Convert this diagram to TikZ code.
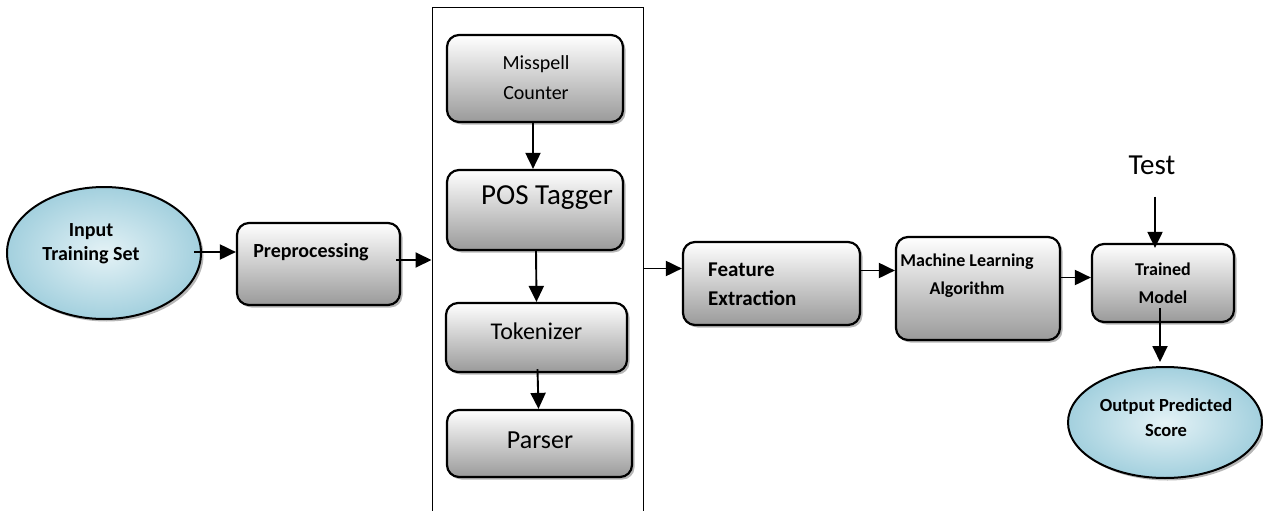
\documentclass[tikz,border=0pt]{standalone}
\usepackage{fontspec}
\setmainfont{Carlito}
\usetikzlibrary{arrows.meta,shadows,calc,shapes.geometric}
\definecolor{boxgray}{HTML}{9A9A9A}
\definecolor{ellin}{HTML}{E4F2F6}
\definecolor{ellout}{HTML}{A3D0DE}
\begin{document}
\begin{tikzpicture}[x=1pt,y=-1pt,
  box/.style={draw, line width=2.2pt, rounded corners=12pt, inner sep=0pt,
    top color=white, bottom color=boxgray,
    drop shadow={shadow xshift=2.5pt, shadow yshift=-2.5pt, fill=black!40, opacity=0.7}},
  ell/.style={ellipse, draw, line width=2pt, inner sep=0pt,
    inner color=ellin, outer color=ellout,
    drop shadow={shadow xshift=2.5pt, shadow yshift=-2.5pt, fill=black!40, opacity=0.7}},
  arr/.style={line width=1.9pt, -{Triangle[length=16pt,width=15pt]}},
  bt/.style={font=\bfseries\fontsize{20}{24}\selectfont, align=center, inner sep=0pt},
  nt/.style={font=\fontsize{24}{30}\selectfont, align=center, inner sep=0pt}]
\useasboundingbox (0,0) rectangle (1263,511);
% outer stage rectangle
\node[draw, line width=1pt, minimum width=211pt, minimum height=530pt, inner sep=0pt] (stage) at (537.5,273) {};
% shapes
\node[ell, minimum width=194pt, minimum height=132pt] (in) at (104,253) {};
\node[box, minimum width=163pt, minimum height=82pt] (pre) at (318.5,264) {};
\node[box, minimum width=176pt, minimum height=87pt] (mis) at (535,78.5) {};
\node[box, minimum width=176pt, minimum height=80pt] (pos) at (535,210) {};
\node[box, minimum width=181pt, minimum height=69pt] (tok) at (536.5,337.5) {};
\node[box, minimum width=185pt, minimum height=67pt] (par) at (539.5,443.5) {};
\node[box, minimum width=177pt, minimum height=83pt] (fe) at (771.5,283.5) {};
\node[box, minimum width=164pt, minimum height=103pt] (ml) at (978,288.5) {};
\node[box, minimum width=142pt, minimum height=78pt] (tm) at (1163,283) {};
\node[ell, minimum width=194pt, minimum height=111pt] (out) at (1165,422.5) {};
% texts
\node[bt] (inT) at (91,244) {Input\\Training Set};
\node[bt] (preT) at (311,252) {Preprocessing};
\node[font=\fontsize{20}{30}\selectfont, align=center, inner sep=0pt] (misT) at (536,78) {Misspell\\Counter};
\node[font=\fontsize{29}{30}\selectfont, inner sep=0pt] (posT) at (547,198) {POS Tagger};
\node[nt] (tokT) at (536.5,331) {Tokenizer};
\node[font=\fontsize{26}{30}\selectfont, inner sep=0pt] (parT) at (540,440) {Parser};
\node[font=\bfseries\fontsize{21}{29}\selectfont, align=left, inner sep=0pt, anchor=west] (feT) at (708,284.5) {Feature\\Extraction};
\node[font=\bfseries\fontsize{18}{28}\selectfont, align=center, inner sep=0pt] (mlT) at (967,276) {Machine Learning\\Algorithm};
\node[font=\bfseries\fontsize{18}{28}\selectfont, align=center, inner sep=0pt] (tmT) at (1163,283) {Trained\\Model};
\node[font=\bfseries\fontsize{18.5}{25}\selectfont, align=center, inner sep=0pt] (outT) at (1166,417.5) {Output Predicted\\Score};
\node[font=\fontsize{29}{30}\selectfont, inner sep=0pt] (test) at (1152,165) {Test};
% connectors
\coordinate (a1) at ($(in.east)+(-8,-1)$);
\draw[arr] (a1) -- (a1 -| pre.west);
\coordinate (a2) at ($(pre.east)+(-5,-4)$);
\draw[arr] (a2) -- (a2 -| stage.west);
\draw[arr] ($(mis.south)+(-2,-2)$) -- ($(pos.north)+(-2,0)$);
\draw[arr] ($(pos.south)+(1,-2)$) -- ($(tok.north)+(0,0)$);
\draw[arr] ($(tok.south)+(1,-4)$) -- ($(par.north)+(-1,0)$);
\coordinate (a3) at ($(fe.west)+(0,-15)$);
\draw[arr] (a3 -| stage.east) -- (a3);
\coordinate (a4) at ($(fe.east)+(0,-13)$);
\draw[arr] (a4) -- (a4 -| ml.west);
\coordinate (a5) at ($(ml.east)+(0,-11)$);
\draw[arr] (a5) -- (a5 -| tm.west);
\draw[arr] ($(test.south)+(3,22)$) -- ($(tm.north)+(-8,5)$);
\draw[arr] ($(tm.south)+(-3,-15)$) -- ($(out.north)+(-5,-4)$);
\end{tikzpicture}
\end{document}
